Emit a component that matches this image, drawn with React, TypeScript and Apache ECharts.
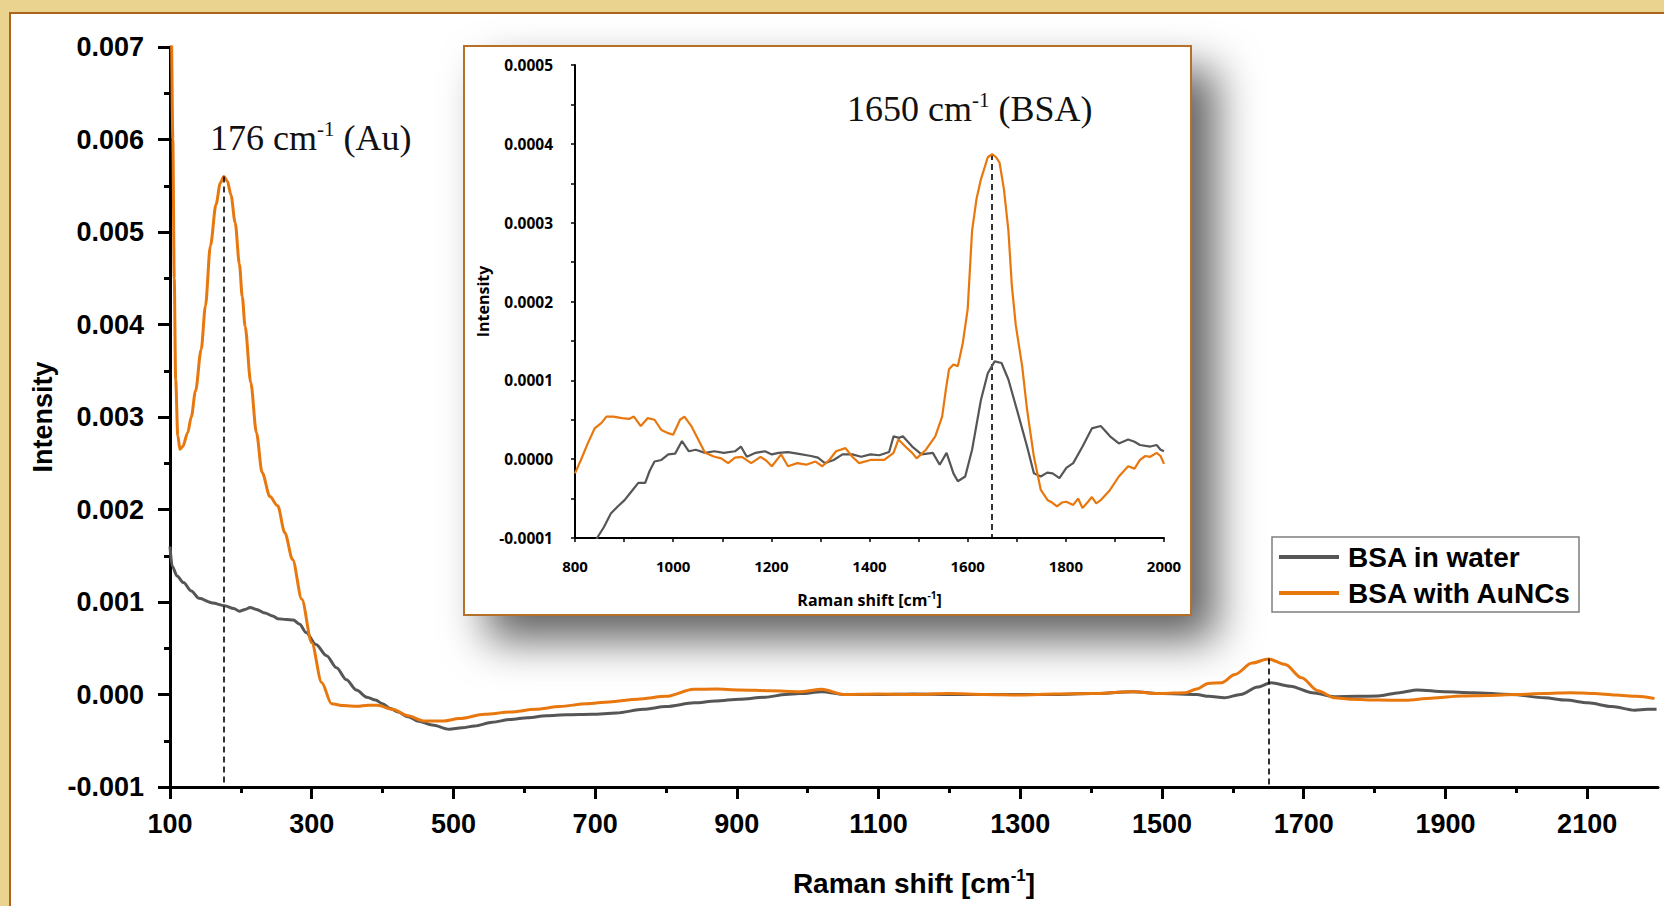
import React, { useEffect, useRef } from 'react';
import * as echarts from 'echarts';

const ORANGE = '#E8770E';
const GRAY = '#565656';
const SANS = 'Liberation Sans';
const INSET_FONT = 'Open Sans';
const SERIF = 'Liberation Serif';

const seriesNames = ['BSA in water', 'BSA with AuNCs'];

const mainXTickValues = [100, 300, 500, 700, 900, 1100, 1300, 1500, 1700, 1900, 2100];
const mainXMinorValues = [200, 400, 600, 800, 1000, 1200, 1400, 1600, 1800, 2000];

const mainWater: [number, number][] = [
  [100, 0.0016], [103, 0.00139], [110, 0.00128], [119, 0.00121], [130, 0.00112], [141, 0.00104],
  [160, 0.00099], [177, 0.00096], [190, 0.00093], [198, 0.0009], [206, 0.00092], [213, 0.00094],
  [222, 0.00092], [234, 0.00088], [245, 0.00085], [252, 0.00082], [264, 0.00081], [274, 0.000805],
  [283, 0.00076], [292, 0.00067], [306, 0.00054], [321, 0.00042], [335, 0.00029], [349, 0.00016],
  [363, 0.00005], [378, -0.00003], [390, -0.00006], [400, -0.0001], [411, -0.00015], [422, -0.00019],
  [436, -0.00024], [451, -0.00029], [470, -0.00033], [494, -0.000375], [512, -0.00036], [530, -0.00034],
  [555, -0.0003], [580, -0.00027], [605, -0.00025], [631, -0.00023], [660, -0.00022], [695, -0.000214],
  [730, -0.0002], [768, -0.00016], [800, -0.00013], [840, -0.00009], [870, -0.00007], [904, -0.00005],
  [940, -0.00003], [969, 0.0], [989, 0.00001], [1020, 0.00003], [1051, 0.0], [1100, 0.0],
  [1150, 0.000005], [1200, 0.0], [1250, 0.0], [1300, 0.0], [1350, 0.0], [1400, 0.00001],
  [1460, 0.00003], [1500, 0.00001], [1549, 0.0], [1566, -0.00002], [1588, -0.000036], [1611, 0.0],
  [1635, 0.00008], [1654, 0.000127], [1681, 0.00009], [1712, 0.00002], [1743, -0.000023],
  [1775, -0.00002], [1805, -0.000016], [1835, 0.00002], [1860, 0.00005], [1899, 0.00003],
  [1938, 0.00002], [1993, 0.0], [2040, -0.000035], [2070, -0.00006], [2101, -0.00009],
  [2135, -0.00013], [2167, -0.00017], [2185, -0.00016], [2198, -0.00016],
];

const mainAu: [number, number][] = [
  [100, 0.0075], [102, 0.0071], [104, 0.006], [106, 0.0045], [108, 0.0034], [111, 0.0028],
  [114, 0.00265], [118, 0.00268], [125, 0.00283], [130, 0.003], [136, 0.00328], [144, 0.00373],
  [150, 0.0042], [157, 0.00485], [165, 0.0053], [171, 0.00553], [176, 0.0056], [181, 0.00555],
  [186, 0.0054], [192, 0.0051], [198, 0.00465], [202, 0.0043], [206, 0.00398], [214, 0.00337],
  [222, 0.00283], [230, 0.0024], [241, 0.00214], [252, 0.00204], [262, 0.00175], [273, 0.00146],
  [286, 0.00103], [300, 0.00056], [314, 0.00013], [328, -0.0001], [345, -0.00012], [364, -0.000127],
  [380, -0.000115], [393, -0.000117], [414, -0.00016], [436, -0.00023], [458, -0.000286],
  [487, -0.000286], [508, -0.00026], [544, -0.000214], [580, -0.00019], [616, -0.00016],
  [650, -0.00013], [688, -0.0001], [720, -0.00008], [760, -0.00005], [800, -0.00002],
  [839, 0.000056], [870, 0.00006], [904, 0.00005], [947, 0.00004], [989, 0.00003], [1020, 0.000056],
  [1051, 0.0], [1100, 0.000005], [1150, 0.0], [1200, 0.00001], [1250, 0.0], [1300, -0.000005],
  [1350, 0.000005], [1400, 0.00001], [1456, 0.00003], [1500, 0.00001], [1533, 0.00002],
  [1549, 0.00006], [1565, 0.00012], [1584, 0.000127], [1603, 0.000216], [1627, 0.00034],
  [1650, 0.000385], [1674, 0.000324], [1697, 0.00018], [1720, 0.00004], [1743, -0.000035],
  [1767, -0.000052], [1805, -0.00006], [1844, -0.000063], [1880, -0.00004], [1923, -0.000016],
  [1960, -0.00001], [2000, 0.0], [2040, 0.00001], [2077, 0.00002], [2110, 0.00001],
  [2140, -0.000005], [2170, -0.00002], [2195, -0.000044],
];

const insetWater: [number, number][] = [
  [840, -0.000106], [845, -0.0001], [859, -0.000086], [873, -0.000069], [887, -0.00006],
  [901, -0.000052], [915, -0.000041], [929, -0.00003], [943, -0.00003], [952, -0.000015],
  [962, -0.000003], [976, -0.000001], [990, 0.000006], [1004, 0.000007], [1018, 0.000023],
  [1032, 0.00001], [1046, 0.000012], [1065, 0.000008], [1084, 0.00001], [1103, 0.000008],
  [1126, 0.00001], [1138, 0.000016], [1150, 0.000003], [1168, 0.000008], [1187, 0.00001],
  [1201, 0.000006], [1215, 0.000008], [1234, 0.000009], [1253, 0.000007], [1281, 0.000004],
  [1295, 0.000002], [1309, -0.000005], [1327, -0.000001], [1345, 0.000006], [1365, 0.000006],
  [1383, 0.000003], [1402, 0.000006], [1420, 0.000005], [1440, 0.000009], [1449, 0.000029],
  [1460, 0.000027], [1468, 0.000029], [1487, 0.000016], [1506, 0.000006], [1529, 0.000008],
  [1543, -0.000007], [1557, 0.000008], [1571, -0.000018], [1580, -0.000028], [1595, -0.000022],
  [1609, 0.000012], [1627, 0.000075], [1641, 0.000109], [1655, 0.000124], [1669, 0.000122],
  [1683, 0.000101], [1702, 0.000059], [1721, 0.000016], [1735, -0.000018], [1749, -0.000022],
  [1762, -0.000017], [1773, -0.000018], [1787, -0.000024], [1801, -0.000011], [1815, -0.000005],
  [1834, 0.000016], [1853, 0.000039], [1871, 0.000042], [1880, 0.000036], [1890, 0.000029],
  [1908, 0.00002], [1927, 0.000025], [1940, 0.000022], [1951, 0.000018], [1972, 0.000016],
  [1985, 0.000018], [1993, 0.000012], [2000, 0.00001],
];

const insetAu: [number, number][] = [
  [800, -0.000018], [812, -0.000001], [826, 0.00002], [840, 0.000039], [854, 0.000046],
  [864, 0.000054], [878, 0.000054], [896, 0.000052], [910, 0.000051], [920, 0.000054],
  [934, 0.000042], [948, 0.000052], [962, 0.00005], [976, 0.000037], [990, 0.000033],
  [1000, 0.000031], [1014, 0.00005], [1023, 0.000054], [1037, 0.000042], [1051, 0.000025],
  [1065, 0.000008], [1084, 0.000003], [1098, 0.000001], [1112, -0.000005], [1126, 0.000002],
  [1140, 0.000003], [1159, -0.000005], [1178, 0.000003], [1190, -0.000002], [1201, -0.000009],
  [1220, 0.000006], [1234, -0.000009], [1253, -0.000005], [1271, -0.000007], [1290, -0.000003],
  [1304, -0.000009], [1318, -0.000001], [1332, 0.00001], [1351, 0.000014], [1365, 0.000003],
  [1379, -0.000005], [1402, -0.000001], [1430, -0.000001], [1449, 0.000008], [1459, 0.000025],
  [1473, 0.000016], [1487, 0.000008], [1496, 0.000001], [1515, 0.000012], [1534, 0.000029],
  [1548, 0.000054], [1556, 0.00009], [1562, 0.000114], [1571, 0.00012], [1580, 0.000118],
  [1590, 0.000147], [1600, 0.00019], [1609, 0.00029], [1618, 0.00033], [1627, 0.000355],
  [1641, 0.000383], [1650, 0.000387], [1658, 0.000383], [1665, 0.000376], [1674, 0.000342],
  [1683, 0.00029], [1690, 0.00022], [1698, 0.00017], [1711, 0.000118], [1721, 0.000063],
  [1735, 0.000003], [1749, -0.000039], [1763, -0.000052], [1772, -0.000055], [1782, -0.00006],
  [1792, -0.000055], [1801, -0.000054], [1815, -0.000058], [1825, -0.00005], [1834, -0.000062],
  [1844, -0.000055], [1853, -0.000048], [1862, -0.000056], [1871, -0.000052], [1890, -0.000039],
  [1908, -0.000022], [1927, -0.000009], [1940, -0.000012], [1951, -0.000001], [1962, 0.000004],
  [1972, 0.000003], [1985, 0.000008], [1993, 0.000004], [2000, -0.000006],
];

const auPeak: [number, number] = [176, 0.0056];
const bsaPeakMain: [number, number] = [1650, 0.00039];
const bsaPeakInset: [number, number] = [1650, 0.000387];

const fmt = (d: number) => (v: number) => (Math.abs(v) < 1e-12 ? 0 : v).toFixed(d);
const plain = (v: number) => String(Math.round(v));

function buildOption(): any {
  const mainLabel = { fontSize: 27, fontWeight: 'bold', fontFamily: SANS, color: '#000' };
  const insetLabel = { fontSize: 15, fontWeight: 'bold', fontFamily: INSET_FONT, color: '#000' };
  const dashed = { color: '#000', width: 1.6, type: [6, 4] };
  const annotationRich = {
    a: { fontSize: 36, fontFamily: SERIF, fill: '#111', lineHeight: 40 },
    b: { fontSize: 21, fontFamily: SERIF, fill: '#111', lineHeight: 21, verticalAlign: 'top' },
  };
  return {
    animation: false,
    graphic: [
      { type: 'rect', z: -10, silent: true, shape: { x: 0, y: 0, width: 1664, height: 906 }, style: { fill: '#EAD38F' } },
      { type: 'rect', z: -9, silent: true, shape: { x: 10, y: 13, width: 1700, height: 950 }, style: { fill: '#ffffff', stroke: '#A9651F', lineWidth: 2 } },
      {
        type: 'rect', z: 5, silent: true,
        shape: { x: 464, y: 46, width: 727, height: 569 },
        style: { fill: '#ffffff', stroke: '#B5702A', lineWidth: 2, shadowBlur: 44, shadowOffsetX: 24, shadowOffsetY: 24, shadowColor: 'rgba(0,0,0,0.62)' },
      },
      {
        type: 'text', z: 20, silent: true, x: 210, y: 138,
        style: {
          text: '{a|176 cm}{b|-1}{a| (Au)}', align: 'left', verticalAlign: 'middle', textAlign: 'left', textVerticalAlign: 'middle',
          rich: annotationRich,
        },
      },
      {
        type: 'text', z: 20, silent: true, x: 847, y: 109,
        style: {
          text: '{a|1650 cm}{b|-1}{a| (BSA)}', align: 'left', verticalAlign: 'middle', textAlign: 'left', textVerticalAlign: 'middle',
          rich: annotationRich,
        },
      },
    ],
    legend: {
      data: seriesNames,
      left: 1272, top: 537, orient: 'vertical',
      icon: 'rect',
      padding: [5, 7, 4, 7], itemWidth: 60, itemHeight: 4, itemGap: 6,
      borderColor: '#7f7f7f', borderWidth: 1.5, backgroundColor: '#ffffff',
      selectedMode: false,
      textStyle: { fontSize: 28, fontWeight: 'bold', fontFamily: SANS, color: '#000', lineHeight: 30, padding: [0, 0, 0, 4] },
      z: 20,
    },
    grid: [
      { left: 170, top: 47, width: 1488, height: 740 },
      { left: 575, top: 65, width: 589, height: 473, z: 10 },
    ],
    xAxis: [
      {
        type: 'value', gridIndex: 0, min: 100, max: 2200, interval: 100,
        axisLine: { onZero: false, lineStyle: { color: '#000', width: 3 } },
        axisTick: { customValues: mainXTickValues, length: 12, lineStyle: { color: '#000', width: 3 } },
        axisLabel: { ...mainLabel, customValues: mainXTickValues, margin: 23, formatter: plain },
        splitLine: { show: false },
        name: '{a|Raman shift [cm}{b|-1}{a|]}', nameLocation: 'middle', nameGap: 80,
        nameTextStyle: {
          rich: {
            a: { fontSize: 28, fontWeight: 'bold', fontFamily: SANS, color: '#000', lineHeight: 32 },
            b: { fontSize: 17, fontWeight: 'bold', fontFamily: SANS, color: '#000', lineHeight: 17, verticalAlign: 'top' },
          },
        },
      },
      {
        type: 'value', gridIndex: 0, min: 100, max: 2200, interval: 100, position: 'bottom',
        axisLine: { show: false, onZero: false },
        axisTick: { customValues: mainXMinorValues, length: 6, lineStyle: { color: '#000', width: 3 } },
        axisLabel: { show: false },
        splitLine: { show: false },
      },
      {
        type: 'value', gridIndex: 1, min: 800, max: 2000, interval: 200, z: 12,
        axisLine: { onZero: false, lineStyle: { color: '#000', width: 2 } },
        axisTick: { length: 4, lineStyle: { color: '#000', width: 1.5 } },
        minorTick: { show: true, splitNumber: 2, length: 4, lineStyle: { color: '#000', width: 1.5 } },
        axisLabel: { ...insetLabel, margin: 20, formatter: plain },
        splitLine: { show: false },
        name: '{a|Raman shift [cm}{b|-1}{a|]}', nameLocation: 'middle', nameGap: 52,
        nameTextStyle: {
          rich: {
            a: { fontSize: 16, fontWeight: 'bold', fontFamily: INSET_FONT, color: '#000', lineHeight: 20 },
            b: { fontSize: 10, fontWeight: 'bold', fontFamily: INSET_FONT, color: '#000', lineHeight: 10, verticalAlign: 'top' },
          },
        },
      },
    ],
    yAxis: [
      {
        type: 'value', gridIndex: 0, min: -0.001, max: 0.007, interval: 0.001,
        axisLine: { show: true, onZero: false, lineStyle: { color: '#000', width: 3 } },
        axisTick: { show: true, length: 12, lineStyle: { color: '#000', width: 3 } },
        minorTick: { show: true, splitNumber: 2, length: 6, lineStyle: { color: '#000', width: 3 } },
        axisLabel: { ...mainLabel, margin: 26, formatter: fmt(3) },
        splitLine: { show: false },
        name: 'Intensity', nameLocation: 'middle', nameGap: 112,
        nameTextStyle: { fontSize: 27, fontWeight: 'bold', fontFamily: SANS, color: '#000' },
      },
      {
        type: 'value', gridIndex: 1, min: -0.0001, max: 0.0005, interval: 0.0001, z: 12,
        axisLine: { show: true, onZero: false, lineStyle: { color: '#000', width: 2 } },
        axisTick: { show: true, length: 4, lineStyle: { color: '#000', width: 1.5 } },
        minorTick: { show: true, splitNumber: 2, length: 4, lineStyle: { color: '#000', width: 1.5 } },
        axisLabel: { ...insetLabel, fontSize: 15.5, margin: 22, formatter: fmt(4) },
        splitLine: { show: false },
        name: 'Intensity', nameLocation: 'middle', nameGap: 84,
        nameTextStyle: { fontSize: 16, fontWeight: 'bold', fontFamily: INSET_FONT, color: '#000' },
      },
    ],
    series: [
      {
        name: seriesNames[0], type: 'line', xAxisIndex: 0, yAxisIndex: 0, data: mainWater,
        symbol: 'none', showSymbol: false, smooth: 0.3, smoothMonotone: 'x', z: 2,
        lineStyle: { color: GRAY, width: 3 }, itemStyle: { color: GRAY },
      },
      {
        name: seriesNames[1], type: 'line', xAxisIndex: 0, yAxisIndex: 0, data: mainAu,
        symbol: 'none', showSymbol: false, smooth: 0.3, smoothMonotone: 'x', z: 3,
        lineStyle: { color: ORANGE, width: 3 }, itemStyle: { color: ORANGE },
        markLine: {
          silent: true, symbol: ['none', 'none'], label: { show: false }, lineStyle: dashed,
          data: [
            [{ coord: auPeak }, { coord: [auPeak[0], -0.001] }],
            [{ coord: bsaPeakMain }, { coord: [bsaPeakMain[0], -0.001] }],
          ],
        },
      },
      {
        name: seriesNames[0], type: 'line', xAxisIndex: 2, yAxisIndex: 1, data: insetWater,
        symbol: 'none', showSymbol: false, z: 12,
        lineStyle: { color: GRAY, width: 2.2 }, itemStyle: { color: GRAY },
      },
      {
        name: seriesNames[1], type: 'line', xAxisIndex: 2, yAxisIndex: 1, data: insetAu,
        symbol: 'none', showSymbol: false, z: 13,
        lineStyle: { color: ORANGE, width: 2.2 }, itemStyle: { color: ORANGE },
        markLine: {
          silent: true, symbol: ['none', 'none'], label: { show: false }, lineStyle: dashed,
          data: [[{ coord: bsaPeakInset }, { coord: [bsaPeakInset[0], -0.0001] }]],
        },
      },
    ],
  };
}

export default function App() {
  const ref = useRef<HTMLDivElement>(null);
  useEffect(() => {
    if (!ref.current) return;
    const chart = echarts.init(ref.current, null, { renderer: 'svg' });
    chart.setOption(buildOption());
    return () => chart.dispose();
  }, []);
  return (
    <div
      ref={ref}
      style={{ position: 'fixed', left: 0, top: 0, width: 1664, height: 906, background: '#fff' }}
    />
  );
}
